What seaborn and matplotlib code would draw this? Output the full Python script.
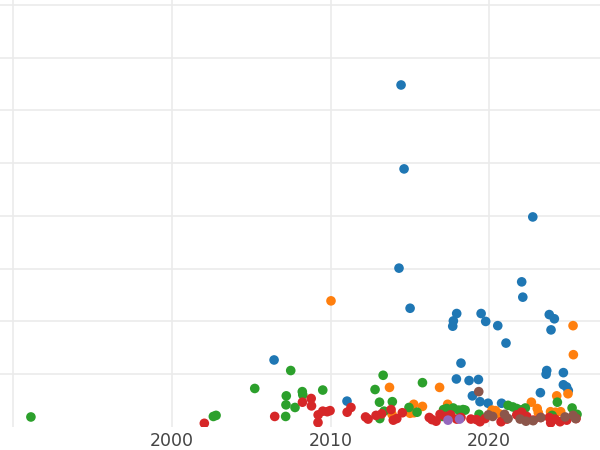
import matplotlib
matplotlib.use("Agg")
import matplotlib.pyplot as plt
import seaborn as sns
import pandas as pd

groups = ["A", "B", "C", "D", "E", "F"]
colors = ["#1f77b4", "#ff7f0e", "#2ca02c", "#d62728", "#9467bd", "#8c564b"]

a_year = [2014.45, 2014.64, 2022.76, 2014.32, 2006.44, 2015.02, 2022.06, 2022.13,
          2017.96, 2017.75, 2017.71, 2019.50, 2019.79, 2020.55, 2021.07, 2023.80,
          2024.12, 2023.91, 2018.23, 2017.94, 2018.74, 2019.33, 2018.95, 2019.43,
          2019.94, 2020.79, 2023.64, 2023.60, 2024.69, 2024.69, 2024.89, 2025.00,
          2023.24, 2011.04]
a_val = [64.8, 48.9, 39.8, 30.1, 12.7, 22.5, 27.5, 24.6,
         21.5, 20.1, 19.1, 21.5, 20.0, 19.2, 15.9, 21.3,
         20.5, 18.4, 12.1, 9.1, 8.8, 9.0, 5.9, 4.8,
         4.5, 4.5, 10.7, 10.0, 10.3, 8.0, 7.6, 6.9,
         6.5, 4.9]

b_year = [2010.03, 2025.30, 2025.32, 2013.72, 2016.88, 2015.80, 2015.25, 2015.02,
          2015.27, 2017.39, 2020.19, 2020.41, 2022.67, 2023.04, 2023.11, 2024.27,
          2024.98, 2023.88, 2024.20, 2024.52, 2013.88, 2020.63]
b_val = [23.9, 19.2, 13.7, 7.5, 7.5, 3.9, 4.3, 2.6,
         2.7, 4.3, 3.2, 3.1, 4.7, 3.5, 2.7, 5.9,
         6.3, 2.9, 2.8, 2.9, 2.4, 2.5]

c_year = [1991.10, 2002.61, 2002.78, 2005.22, 2007.49, 2007.21, 2007.19, 2007.17,
          2007.76, 2008.22, 2008.25, 2009.51, 2012.81, 2013.32, 2013.09, 2013.90,
          2013.11, 2013.38, 2014.95, 2015.46, 2015.80, 2017.13, 2017.33, 2017.74,
          2018.08, 2018.36, 2018.49, 2017.05, 2017.33, 2019.37, 2021.20, 2021.50,
          2021.75, 2022.15, 2022.29, 2024.31, 2023.98, 2025.24, 2025.55, 2022.00]
c_val = [1.9, 2.0, 2.2, 7.3, 10.7, 5.9, 4.2, 2.0,
         3.7, 6.7, 6.1, 7.0, 7.1, 9.8, 4.7, 4.8,
         1.6, 3.0, 3.7, 2.8, 8.4, 3.3, 3.5, 3.6,
         3.2, 3.3, 3.2, 2.0, 2.1, 2.4, 4.1, 3.8,
         3.5, 3.3, 3.6, 4.7, 2.2, 3.6, 2.4, 3.2]

d_year = [2002.04, 2006.48, 2008.23, 2008.78, 2008.80, 2009.22, 2009.21, 2009.51,
          2009.79, 2011.05, 2011.29, 2012.21, 2012.37, 2012.87, 2013.23, 2013.82,
          2013.96, 2014.18, 2014.53, 2016.23, 2016.40, 2016.66, 2016.91, 2017.24,
          2017.57, 2017.96, 2018.23, 2018.86, 2019.21, 2019.43, 2019.75, 2020.76,
          2021.12, 2021.75, 2022.06, 2022.38, 2022.79, 2023.26, 2023.80, 2023.89,
          2024.16, 2024.48, 2024.90, 2025.49, 2009.97]
d_val = [0.7, 2.0, 4.7, 5.4, 4.0, 2.3, 0.85, 3.0,
         2.9, 2.8, 3.7, 1.9, 1.5, 2.2, 2.5, 3.3,
         1.3, 1.6, 2.7, 1.8, 1.4, 1.1, 2.4, 2.0,
         2.3, 1.5, 1.8, 1.5, 1.4, 1.0, 1.6, 1.0,
         1.5, 2.3, 2.8, 2.0, 1.3, 1.8, 1.8, 0.8,
         1.5, 1.0, 1.3, 1.6, 3.1]

e_year = [2017.41, 2018.14]
e_val = [1.3, 1.5]

f_year = [2019.35, 2019.96, 2020.23, 2020.98, 2021.20, 2021.96, 2022.33, 2022.78,
          2023.26, 2024.80, 2025.30, 2025.46]
f_val = [6.7, 2.3, 2.0, 2.4, 1.6, 1.5, 1.1, 1.2,
         1.8, 1.9, 2.2, 1.6]

x_ticks = [1990, 2000, 2010, 2020]
x_ticklabels = ["", "2000", "2010", "2020"]
y_ticks = [10, 20, 30, 40, 50, 60, 70, 80]

years = [a_year, b_year, c_year, d_year, e_year, f_year]
vals = [a_val, b_val, c_val, d_val, e_val, f_val]
frames = [pd.DataFrame({"year": y, "value": v, "group": g})
          for y, v, g in zip(years, vals, groups)]
df = pd.concat(frames, ignore_index=True)

sns.set_theme(style="whitegrid", rc={
    "grid.color": "#ebebeb",
    "grid.linewidth": 1.2,
    "axes.edgecolor": "white",
})

fig = plt.figure(figsize=(6, 4.5), dpi=100)
ax = fig.add_axes([0, 23 / 450, 1, 427 / 450])
sns.scatterplot(data=df, x="year", y="value", hue="group", hue_order=groups,
                palette=colors, s=48, linewidth=0, legend=False, ax=ax)

ax.set_xlim(1989.15, 2027.0)
ax.set_ylim(0, 80.9)
ax.set_xticks(x_ticks)
ax.set_xticklabels(x_ticklabels)
ax.set_yticks(y_ticks)
ax.set_yticklabels([])
ax.tick_params(length=0, labelsize=12.5, labelcolor="#444444", pad=3.8)
for s in ax.spines.values():
    s.set_visible(False)
ax.set_xlabel("")
ax.set_ylabel("")

fig.savefig("out.png", dpi=100)
